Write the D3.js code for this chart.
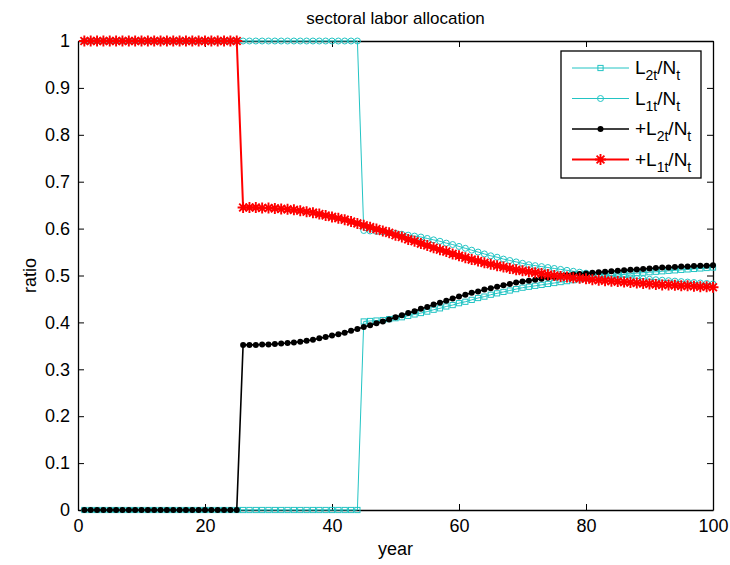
<!DOCTYPE html>
<html>
<head>
<meta charset="utf-8">
<script src="https://cdn.jsdelivr.net/npm/d3@7"></script>
<style>
  body { margin: 0; background: #fff; }
  svg { font-family: "Liberation Sans", Arial, sans-serif; }
</style>
</head>
<body>
<svg id="chart"></svg>
<script>
// data, year 1..100
const years = d3.range(1, 101);

// L2t/Nt (cyan squares)
const l2 = [
  0,0,0,0,0,0,0,0,0,0, 0,0,0,0,0,0,0,0,0,0,
  0,0,0,0,0,0,0,0,0,0, 0,0,0,0,0,0,0,0,0,0,
  0,0,0,0,0.402,0.403,0.404,0.405,0.407,0.409,
  0.411,0.414,0.417,0.420,0.423,0.427,0.430,0.434,0.437,0.441,
  0.444,0.448,0.452,0.455,0.459,0.462,0.465,0.468,0.471,0.474,
  0.476,0.478,0.480,0.482,0.484,0.486,0.488,0.490,0.492,0.494,
  0.495,0.497,0.498,0.500,0.501,0.503,0.504,0.505,0.506,0.507,
  0.508,0.509,0.510,0.511,0.512,0.513,0.514,0.515,0.516,0.517
];

// L1t/Nt (cyan circles)
const l1 = [
  1,1,1,1,1,1,1,1,1,1, 1,1,1,1,1,1,1,1,1,1,
  1,1,1,1,1,1,1,1,1,1, 1,1,1,1,1,1,1,1,1,1,
  1,1,1,1,0.596,0.595,0.594,0.593,0.591,0.590,
  0.588,0.586,0.584,0.582,0.579,0.576,0.573,0.569,0.566,0.562,
  0.558,0.554,0.550,0.546,0.542,0.539,0.535,0.532,0.529,0.526,
  0.523,0.521,0.519,0.517,0.515,0.513,0.511,0.509,0.507,0.505,
  0.504,0.502,0.501,0.499,0.498,0.496,0.495,0.494,0.493,0.492,
  0.491,0.490,0.489,0.488,0.487,0.486,0.485,0.484,0.483,0.482
];

// +L2t/Nt (black dots)
const l2plus = [
  0,0,0,0,0,0,0,0,0,0, 0,0,0,0,0,0,0,0,0,0,
  0,0,0,0,0,0.352,0.352,0.352,0.353,0.353,
  0.354,0.355,0.356,0.357,0.359,0.361,0.363,0.366,0.369,0.372,
  0.375,0.378,0.382,0.386,0.390,0.394,0.398,0.402,0.406,0.411,
  0.415,0.420,0.424,0.429,0.433,0.438,0.442,0.446,0.451,0.455,
  0.459,0.463,0.466,0.470,0.473,0.476,0.479,0.482,0.485,0.487,
  0.489,0.491,0.493,0.495,0.497,0.499,0.500,0.502,0.503,0.504,
  0.506,0.507,0.508,0.509,0.510,0.511,0.512,0.513,0.514,0.515,
  0.516,0.517,0.517,0.518,0.519,0.519,0.520,0.521,0.521,0.522
];

// +L1t/Nt (red asterisks)
const l1plus = [
  1,1,1,1,1,1,1,1,1,1, 1,1,1,1,1,1,1,1,1,1,
  1,1,1,1,1,0.645,0.645,0.645,0.644,0.644,
  0.643,0.642,0.641,0.640,0.638,0.636,0.634,0.631,0.628,0.625,
  0.622,0.619,0.615,0.611,0.607,0.603,0.599,0.595,0.591,0.586,
  0.582,0.577,0.573,0.568,0.564,0.559,0.555,0.551,0.546,0.542,
  0.538,0.534,0.531,0.527,0.524,0.521,0.518,0.515,0.512,0.510,
  0.508,0.506,0.504,0.502,0.500,0.498,0.497,0.495,0.494,0.493,
  0.491,0.490,0.489,0.488,0.487,0.486,0.485,0.484,0.483,0.482,
  0.481,0.480,0.480,0.479,0.478,0.478,0.477,0.476,0.476,0.475
];

const xTicks = [0, 20, 40, 60, 80, 100];
const yTicks = [0, 0.1, 0.2, 0.3, 0.4, 0.5, 0.6, 0.7, 0.8, 0.9, 1];

const series = [
  {name: "L2t", plus: false, values: l2, color: "#22c4c4", marker: "square", width: 1},
  {name: "L1t", plus: false, values: l1, color: "#22c4c4", marker: "circle", width: 1},
  {name: "L2t", plus: true, values: l2plus, color: "#000000", marker: "dot", width: 1.6},
  {name: "L1t", plus: true, values: l1plus, color: "#ff0000", marker: "star", width: 2}
];

const width = 730;
const height = 565;
const margin = {top: 41, right: 17, bottom: 55, left: 78};
const inWidth = width - margin.left - margin.right;
const inHeight = height - margin.top - margin.bottom;

const svg = d3.select("#chart")
  .attr("width", width)
  .attr("height", height);

const g = svg.append("g")
  .attr("transform", `translate(${margin.left},${margin.top})`);

const x = d3.scaleLinear().domain([0, 100]).range([0, inWidth]);
const y = d3.scaleLinear().domain([0, 1]).range([inHeight, 0]);

// axes, ticks pointing inward like matlab
g.append("g")
  .attr("class", "axis")
  .attr("transform", `translate(0,${inHeight})`)
  .call(d3.axisBottom(x).tickValues(xTicks).tickSizeInner(-6).tickSizeOuter(0).tickPadding(9));
g.append("g")
  .attr("class", "axis")
  .call(d3.axisTop(x).tickValues(xTicks).tickSizeInner(-6).tickSizeOuter(0).tickFormat(""));
g.append("g")
  .attr("class", "axis")
  .call(d3.axisLeft(y).tickValues(yTicks).tickSizeInner(-6).tickSizeOuter(0).tickPadding(8).tickFormat(d3.format("")));
g.append("g")
  .attr("class", "axis")
  .attr("transform", `translate(${inWidth},0)`)
  .call(d3.axisRight(y).tickValues(yTicks).tickSizeInner(-6).tickSizeOuter(0).tickFormat(""));

g.selectAll(".axis path").attr("stroke", "#000").attr("stroke-width", 1.3);
g.selectAll(".axis line").attr("stroke", "#000");
g.selectAll(".axis text")
  .attr("fill", "#000")
  .style("font-size", "18px")
  .style("font-family", "'Liberation Sans', Arial, sans-serif");

// marker drawing
function drawMarker(sel, type, color) {
  if (type === "square") {
    sel.append("rect")
      .attr("x", -2.6).attr("y", -2.6)
      .attr("width", 5.2).attr("height", 5.2)
      .attr("fill", "none").attr("stroke", color).attr("stroke-width", 1);
  } else if (type === "circle") {
    sel.append("circle")
      .attr("r", 3)
      .attr("fill", "none").attr("stroke", color).attr("stroke-width", 1);
  } else if (type === "dot") {
    sel.append("circle")
      .attr("r", 3)
      .attr("fill", color);
  } else if (type === "star") {
    const r = 5.5, a = 3.9;
    sel.append("path")
      .attr("d", `M${-r},0H${r}M0,${-r}V${r}M${-a},${-a}L${a},${a}M${-a},${a}L${a},${-a}`)
      .attr("stroke", color).attr("stroke-width", 1.9).attr("fill", "none");
  }
}

const line = d3.line()
  .x(d => x(d[0]))
  .y(d => y(d[1]));

series.forEach(s => {
  const pts = years.map((yr, i) => [yr, s.values[i]]);
  g.append("path")
    .datum(pts)
    .attr("d", line)
    .attr("fill", "none")
    .attr("stroke", s.color)
    .attr("stroke-width", s.width);
  g.append("g").selectAll("g")
    .data(pts)
    .enter().append("g")
    .attr("transform", d => `translate(${x(d[0])},${y(d[1])})`)
    .each(function () { drawMarker(d3.select(this), s.marker, s.color); });
});

// title and axis labels
svg.append("text")
  .attr("x", margin.left + inWidth / 2)
  .attr("y", 24)
  .attr("text-anchor", "middle")
  .style("font-size", "17px")
  .text("sectoral labor allocation");

svg.append("text")
  .attr("x", margin.left + inWidth / 2)
  .attr("y", 555)
  .attr("text-anchor", "middle")
  .style("font-size", "18px")
  .text("year");

svg.append("text")
  .attr("transform", `translate(36,${margin.top + inHeight / 2}) rotate(-90)`)
  .attr("text-anchor", "middle")
  .style("font-size", "18px")
  .text("ratio");

// legend
const legend = svg.append("g").attr("transform", "translate(561,51)");
legend.append("rect")
  .attr("width", 140).attr("height", 127)
  .attr("fill", "#fff").attr("stroke", "#000").attr("stroke-width", 1.3);

series.forEach((s, i) => {
  const row = legend.append("g").attr("transform", `translate(0,${17 + i * 30.5})`);
  row.append("line")
    .attr("x1", 11).attr("x2", 68)
    .attr("stroke", s.color).attr("stroke-width", s.width);
  drawMarker(row.append("g").attr("transform", "translate(39.5,0)"), s.marker, s.color);
  const t = row.append("text")
    .attr("x", 74).attr("y", 6)
    .style("font-size", "19px");
  const base = s.name.slice(0, 1);
  const sub = s.name.slice(1);
  t.append("tspan").text((s.plus ? "+" : "") + base);
  t.append("tspan").attr("dy", 6).style("font-size", "14px").text(sub);
  t.append("tspan").attr("dy", -6).text("/N");
  t.append("tspan").attr("dy", 6).style("font-size", "14px").text("t");
});
</script>
</body>
</html>
